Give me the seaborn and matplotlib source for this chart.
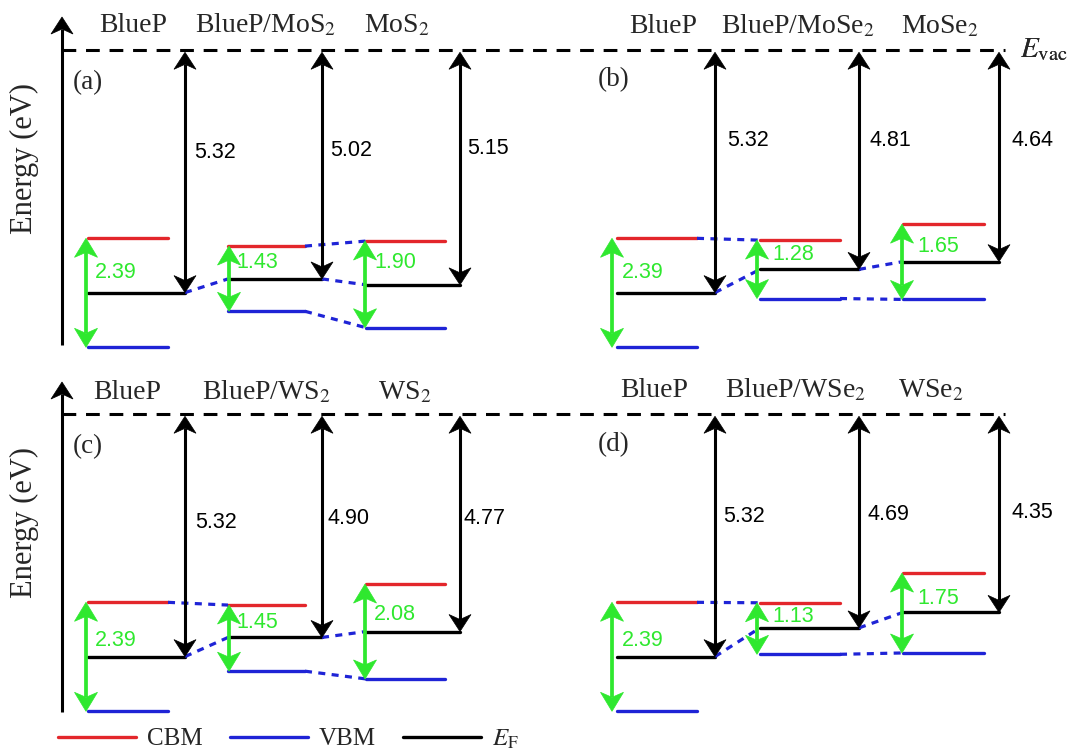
import numpy as np
import pandas as pd
import matplotlib
matplotlib.use('Agg')
import matplotlib.pyplot as plt
import seaborn as sns
from matplotlib.lines import Line2D

sns.set_style('white')
plt.rcParams['font.family'] = ['Liberation Serif', 'DejaVu Serif']
plt.rcParams['mathtext.fontset'] = 'stix'

# ---------------- data (eV, vacuum level = 0) ----------------
panel_labels = ['(a)', '(b)', '(c)', '(d)']

names_a = ['BlueP', 'BlueP/MoS$_2$', 'MoS$_2$']
wf_a = [5.32, 5.02, 5.15]
cbm_a = [-4.13, -4.30, -4.19]
gap_a = [2.39, 1.43, 1.90]

names_b = ['BlueP', 'BlueP/MoSe$_2$', 'MoSe$_2$']
wf_b = [5.32, 4.81, 4.64]
cbm_b = [-4.13, -4.17, -3.82]
gap_b = [2.39, 1.28, 1.65]

names_c = ['BlueP', 'BlueP/WS$_2$', 'WS$_2$']
wf_c = [5.32, 4.90, 4.77]
cbm_c = [-4.13, -4.19, -3.73]
gap_c = [2.39, 1.45, 2.08]

names_d = ['BlueP', 'BlueP/WSe$_2$', 'WSe$_2$']
wf_d = [5.32, 4.69, 4.35]
cbm_d = [-4.13, -4.14, -3.49]
gap_d = [2.39, 1.13, 1.75]

# connectors between neighbouring columns: (level, from column)
links_a = [('EF', 0), ('CBM', 1), ('EF', 1), ('VBM', 1)]
links_b = [('CBM', 0), ('EF', 0), ('EF', 1), ('VBM', 1)]
links_c = [('CBM', 0), ('EF', 0), ('EF', 1), ('VBM', 1)]
links_d = [('CBM', 0), ('EF', 0), ('EF', 1), ('VBM', 1)]

# ---------------- styling / layout ----------------
RED = '#e3262b'
BLUE = '#1f24d6'
GREEN = '#2fe82f'
COLORS = {'CBM': RED, 'VBM': BLUE, 'EF': 'black'}
SANS = 'Liberation Sans'
S = 45.6  # px per eV
DOT = (0, (2.2, 2.0))

W, H = 1069, 750
fig = plt.figure(figsize=(W / 100, H / 100), dpi=100)

rows = [dict(vac=50, top=0, bottom=375), dict(vac=414, top=375, bottom=750)]
axes = []
for r in rows:
    ax = fig.add_axes([0, 1 - r['bottom'] / H, 1, (r['bottom'] - r['top']) / H])
    ax.set_xlim(0, W)
    ax.set_ylim((r['vac'] - r['bottom']) / S, (r['vac'] - r['top']) / S)
    ax.axis('off')
    axes.append(ax)


def ey(row, ypx):
    return (rows[row]['vac'] - ypx) / S


def head(ax, x, y, direction, color, hw, hl, notch):
    # chevron arrow head; x in px units, y in eV (1 eV = S px)
    d = direction
    xs = [x, x + hw / 2, x, x - hw / 2]
    ys = [y, y - d * hl / S, y - d * notch / S, y - d * hl / S]
    ax.fill(xs, ys, color=color, lw=0.5, ec=color, zorder=4)


def double_arrow(ax, x, y_top, y_bot, color, lw, hw, hl, notch, up=True, down=True):
    yt = y_top - (notch / S if up else 0)
    yb = y_bot + (notch / S if down else 0)
    ax.plot([x, x], [yt, yb], color=color, lw=lw, solid_capstyle='butt', zorder=3)
    if up:
        head(ax, x, y_top, 1, color, hw, hl, notch)
    if down:
        head(ax, x, y_bot, -1, color, hw, hl, notch)


LEFT = dict(start=[88, 228, 366], end=[168, 305, 445], arrow=[185, 322, 460],
            green=[86, 229, 365], gnum=[95, 236, 374])
RIGHT = dict(start=[617, 760, 903], end=[697, 840, 984], arrow=[715, 859, 999],
             green=[612, 757, 902], gnum=[622, 772, 917])

panels = [
    dict(row=0, geo=LEFT, names=names_a, wf=wf_a, cbm=cbm_a, gap=gap_a, links=links_a,
         title_x=[133, 266, 397], title_y=32,
         num_x=[194, 330, 467], num_y=[152, 150, 149],
         gnum_y=[272, 263, 263], lab=(73, 83)),
    dict(row=0, geo=RIGHT, names=names_b, wf=wf_b, cbm=cbm_b, gap=gap_b, links=links_b,
         title_x=[663, 798, 940], title_y=33,
         num_x=[727, 870, 1012], num_y=[140, 141, 140],
         gnum_y=[273, 255, 246], lab=(598, 80)),
    dict(row=1, geo=LEFT, names=names_c, wf=wf_c, cbm=cbm_c, gap=gap_c, links=links_c,
         title_x=[127, 266, 405], title_y=399,
         num_x=[195, 327, 463], num_y=[522, 518, 518],
         gnum_y=[640, 623, 615], lab=(73, 447)),
    dict(row=1, geo=RIGHT, names=names_d, wf=wf_d, cbm=cbm_d, gap=gap_d, links=links_d,
         title_x=[654, 796, 931], title_y=397,
         num_x=[723, 867, 1011], num_y=[517, 514, 513],
         gnum_y=[640, 616, 599], lab=(598, 445)),
]

# ---------------- draw ----------------
for pi, p in enumerate(panels):
    ax = axes[p['row']]
    g = p['geo']
    ef = [-w for w in p['wf']]
    vbm = [c - gp for c, gp in zip(p['cbm'], p['gap'])]
    levels = {'CBM': p['cbm'], 'VBM': vbm, 'EF': ef}

    # level segments through seaborn
    recs = []
    for i in range(3):
        for lev in ['CBM', 'VBM', 'EF']:
            x1 = g['arrow'][i] if lev == 'EF' else g['end'][i]
            seg = f'{lev}{i}'
            recs.append(dict(x=g['start'][i], E=levels[lev][i], level=lev, seg=seg))
            recs.append(dict(x=x1, E=levels[lev][i], level=lev, seg=seg))
    df = pd.DataFrame(recs)
    sns.lineplot(data=df, x='x', y='E', hue='level', units='seg', estimator=None,
                 palette=COLORS, legend=False, sort=False, lw=2.4, ax=ax)

    # dotted connectors
    for lev, i in p['links']:
        x0 = g['arrow'][i] if lev == 'EF' else g['end'][i]
        x1 = g['start'][i + 1]
        ax.plot([x0, x1], [levels[lev][i], levels[lev][i + 1]], color=BLUE,
                lw=2.3, linestyle=DOT, solid_capstyle='butt')

    for i in range(3):
        # work function arrows
        double_arrow(ax, g['arrow'][i], -0.05, ef[i], 'black', 2.2, 22, 17, 12)
        ax.text(p['num_x'][i], ey(p['row'], p['num_y'][i]), f"{p['wf'][i]:.2f}",
                fontsize=15.5, family=SANS, va='center', ha='left', color='black')
        # band-gap arrows
        double_arrow(ax, g['green'][i], p['cbm'][i], vbm[i], GREEN, 2.7, 23, 19, 14)
        ax.text(g['gnum'][i], ey(p['row'], p['gnum_y'][i]), f"{p['gap'][i]:.2f}",
                fontsize=15.5, family=SANS, va='center', ha='left', color=GREEN)
        # column titles
        ax.text(p['title_x'][i], ey(p['row'], p['title_y']), p['names'][i],
                fontsize=20, ha='center', va='baseline')

    ax.text(p['lab'][0], ey(p['row'], p['lab'][1]), panel_labels[pi],
            fontsize=19.5, ha='left', va='center')

for r, ax in enumerate(axes):
    # vacuum level
    ax.plot([62, 1005], [0, 0], color='black', lw=2.2, linestyle=(0, (4.5, 3.2)))
    ax.text(1020, ey(r, 50), r'$E_{\mathrm{vac}}$', fontsize=21, ha='left', va='center')
    # energy axis
    bottom_px = 345 if r == 0 else 712
    top_px = 17 if r == 0 else 382
    double_arrow(ax, 62, ey(r, top_px), ey(r, bottom_px), 'black', 2.2, 22, 17, 12,
                 down=False)
    ax.text(24, ey(r, 158 if r == 0 else 523), 'Energy (eV)', fontsize=22,
            rotation=90, ha='center', va='center')

handles = [Line2D([], [], color=RED, lw=2.4), Line2D([], [], color=BLUE, lw=2.4),
           Line2D([], [], color='black', lw=2.4)]
fig.legend(handles, ['CBM', 'VBM', r'$E_{\mathrm{F}}$'], ncol=3, frameon=False,
           loc='center left', bbox_to_anchor=(58 / W, (H - 739) / H),
           bbox_transform=fig.transFigure, fontsize=18, handlelength=3.1,
           handletextpad=0.45, columnspacing=1.1, borderpad=0, borderaxespad=0)

fig.savefig('out.png', dpi=100)
